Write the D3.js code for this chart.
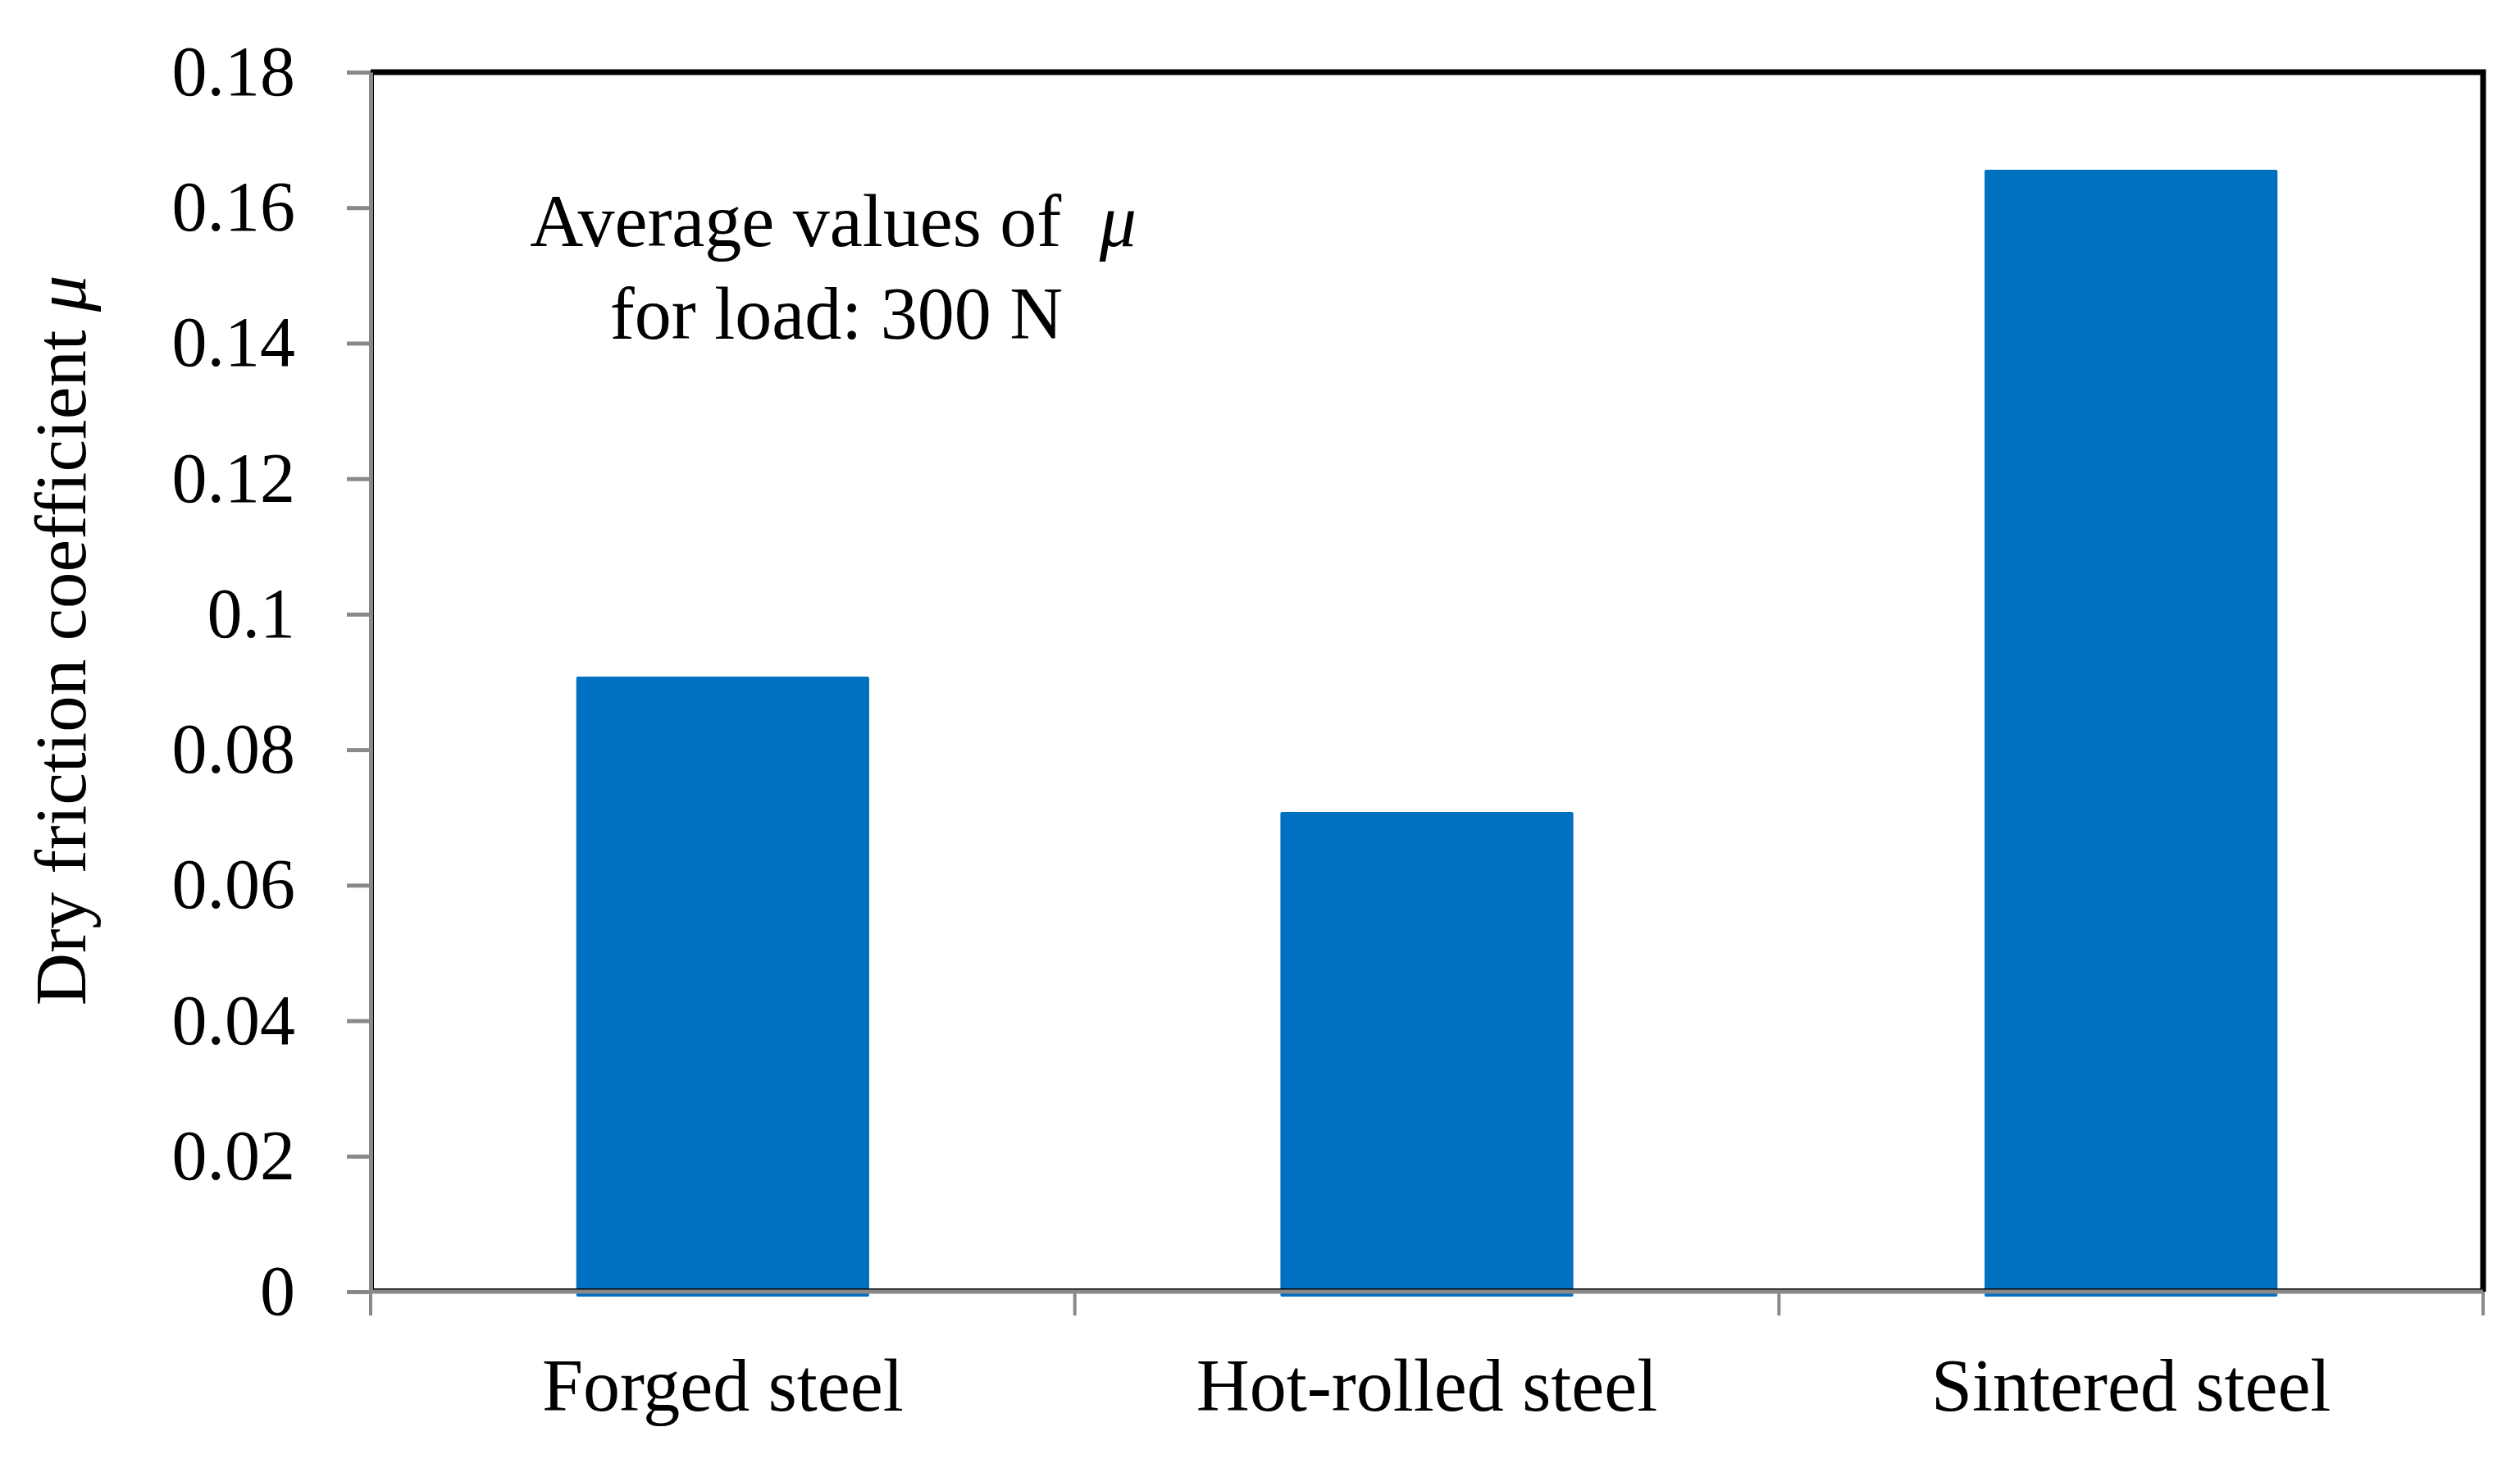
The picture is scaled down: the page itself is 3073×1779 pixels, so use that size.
<!DOCTYPE html>
<html>
<head>
<meta charset="utf-8">
<script src="https://cdn.jsdelivr.net/npm/d3@7"></script>
<style>
  body { margin: 0; background: #fff; }
  text { font-family: "Liberation Serif", "Times New Roman", serif; fill: #000; }
</style>
</head>
<body>
<svg id="drawing" width="3073" height="1779"></svg>
<script>
const categories = ["Forged steel", "Hot-rolled steel", "Sintered steel"]
const values = [0.0908, 0.0708, 0.1656]
const yTicks = [0, 0.02, 0.04, 0.06, 0.08, 0.1, 0.12, 0.14, 0.16, 0.18]
const yTickLabels = ["0", "0.02", "0.04", "0.06", "0.08", "0.1", "0.12", "0.14", "0.16", "0.18"]
const noteLines = ["Average values of ", "for load: 300 N"]

const margin = { top: 88, right: 45, bottom: 204, left: 452 }
const width = 3073
const height = 1779
const fontSize = 88
const axisGray = "#898989"

const svg = d3.select("#drawing")

const x = d3.scaleBand()
  .domain(categories)
  .range([margin.left, width - margin.right])
  .paddingInner(0.584)
  .paddingOuter(0.292)

const y = d3.scaleLinear()
  .domain([0, 0.18])
  .range([height - margin.bottom, margin.top])

// bars (they run a few px below the baseline, as in the original)
svg.append("g")
  .selectAll("rect")
  .data(values)
  .join("rect")
  .attr("x", (d, i) => x(categories[i]))
  .attr("width", x.bandwidth())
  .attr("y", d => y(d))
  .attr("height", d => y(0) - y(d) + 6)
  .attr("rx", 2)
  .attr("fill", "#0070C0")

// plot frame: black top and right
svg.append("path")
  .attr("d", `M${margin.left},${y(0.18)}H${width - margin.right}V${y(0)}`)
  .attr("fill", "none")
  .attr("stroke", "#000")
  .attr("stroke-width", 7)
svg.append("line")
  .attr("x1", margin.left).attr("x2", width - margin.right)
  .attr("y1", y(0) - 3).attr("y2", y(0) - 3)
  .attr("stroke", "#000").attr("stroke-width", 2)
svg.append("line")
  .attr("x1", margin.left + 3).attr("x2", margin.left + 3)
  .attr("y1", y(0.18)).attr("y2", y(0))
  .attr("stroke", "#000").attr("stroke-width", 2)

// y axis
svg.append("g")
  .attr("transform", `translate(${margin.left},0)`)
  .call(d3.axisLeft(y)
    .tickValues(yTicks)
    .tickFormat((d, i) => yTickLabels[i])
    .tickSize(29)
    .tickPadding(63)
    .tickSizeOuter(0))
  .call(g => g.select(".domain").attr("stroke", axisGray).attr("stroke-width", 5))
  .call(g => g.selectAll(".tick line").attr("stroke", axisGray).attr("stroke-width", 5))
  .call(g => g.selectAll(".tick text")
    .attr("font-size", 86)
    .attr("font-family", "Liberation Serif")
    .attr("dy", "0.32em"))

// x axis: baseline, ticks at category boundaries, labels
const xAxis = svg.append("g")
xAxis.append("line")
  .attr("x1", margin.left).attr("x2", width - margin.right)
  .attr("y1", y(0)).attr("y2", y(0))
  .attr("stroke", axisGray).attr("stroke-width", 5)

const bounds = categories.map(c => x(c) - x.step() * x.paddingInner() / 2)
bounds[0] = margin.left
bounds.push(width - margin.right)
xAxis.selectAll(".xtick")
  .data(bounds)
  .join("line")
  .attr("class", "xtick")
  .attr("x1", d => d).attr("x2", d => d)
  .attr("y1", y(0)).attr("y2", y(0) + 29)
  .attr("stroke", axisGray).attr("stroke-width", 4)

xAxis.selectAll(".xlabel")
  .data(categories)
  .join("text")
  .attr("class", "xlabel")
  .attr("x", d => x(d) + x.bandwidth() / 2)
  .attr("y", 1720)
  .attr("text-anchor", "middle")
  .attr("font-size", 90)
  .text(d => d)

// y axis title
const yTitle = svg.append("text")
  .attr("transform", "translate(104,781) rotate(-90)")
  .attr("text-anchor", "middle")
  .attr("font-size", 89)
yTitle.append("tspan").text("Dry friction coefficient ")
yTitle.append("tspan").attr("font-style", "italic").text("μ")

// note
const note = svg.append("text")
  .attr("text-anchor", "middle")
  .attr("font-size", 90)
note.append("tspan").attr("x", 1016).attr("y", 300).text(noteLines[0])
note.append("tspan").attr("font-style", "italic").attr("dx", 24).text("μ")
note.append("tspan").attr("x", 1020).attr("y", 413).text(noteLines[1])
</script>
</body>
</html>
